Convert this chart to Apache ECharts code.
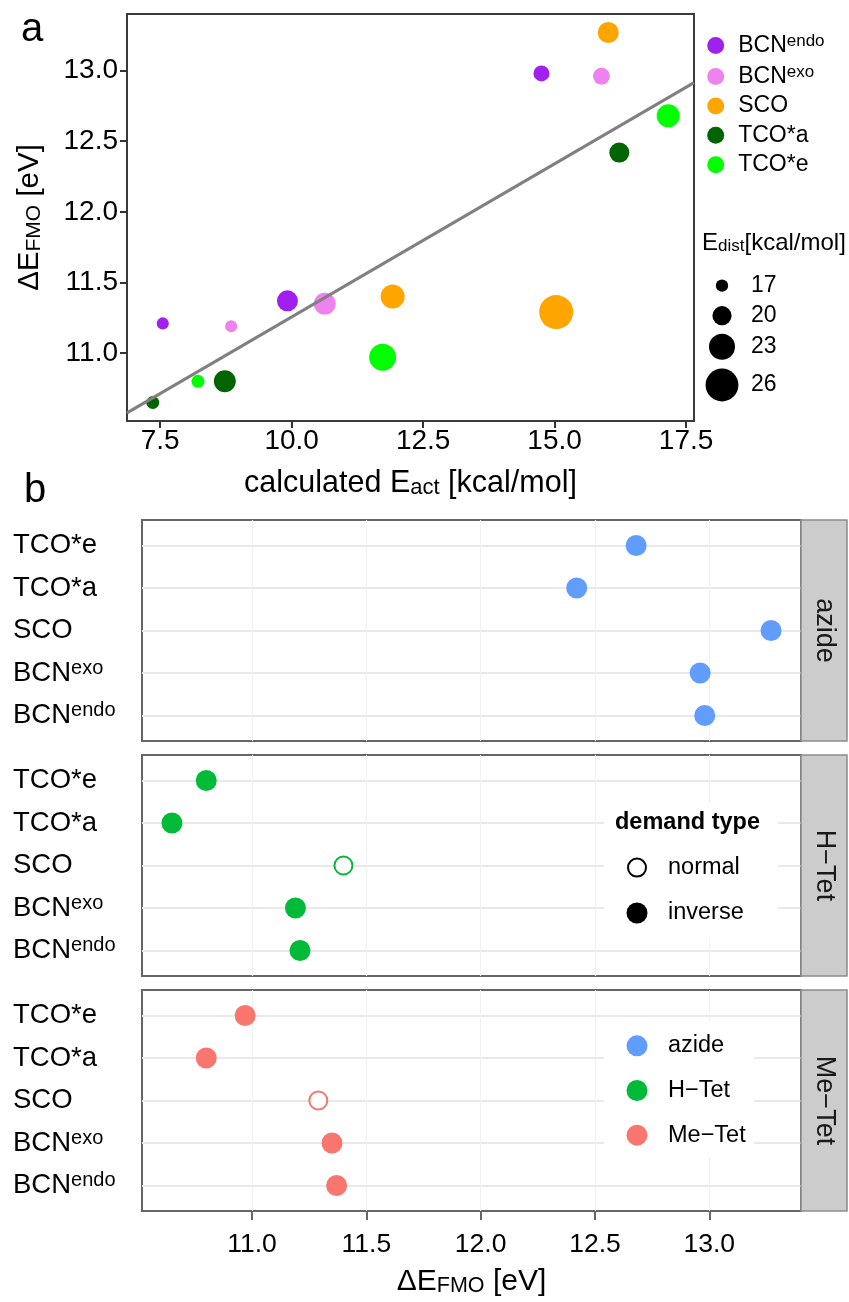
<!DOCTYPE html>
<html><head><meta charset="utf-8">
<script src="https://cdn.jsdelivr.net/npm/echarts@6/dist/echarts.min.js"></script>
<style>html,body{margin:0;padding:0;background:#fff}#c{width:849px;height:1302px}</style>
</head><body><div id="c"></div>
<script>
// ---------- data ----------
const cyclooctynes = ['BCNendo', 'BCNexo', 'SCO', 'TCO*a', 'TCO*e'];
const dipoles = ['azide', 'H-Tet', 'Me-Tet'];
// ΔE_FMO [eV] per dipole, in cyclooctyne order
const dEfmoAzide = [12.98, 12.96, 13.27, 12.42, 12.68];
const dEfmoHTet  = [11.21, 11.19, 11.40, 10.65, 10.80];
const dEfmoMeTet = [11.37, 11.35, 11.29, 10.80, 10.97];
// calculated E_act [kcal/mol]
const eActAzide = [14.75, 15.89, 16.02, 16.23, 17.16];
const eActHTet  = [7.55, 8.85, 11.92, 7.36, 8.22];
const eActMeTet = [9.92, 10.63, 15.03, 8.73, 11.73];
// E_dist [kcal/mol]
const eDistAzide = [18.6, 19.0, 20.8, 20.4, 21.7];
const eDistHTet  = [16.9, 16.9, 22.1, 17.3, 17.3];
const eDistMeTet = [20.8, 21.2, 26.5, 21.2, 23.4];
// demand type
const demandAzide = ['inverse', 'inverse', 'inverse', 'inverse', 'inverse'];
const demandHTet  = ['inverse', 'inverse', 'normal', 'inverse', 'inverse'];
const demandMeTet = ['inverse', 'inverse', 'normal', 'inverse', 'inverse'];
const demandTypes = ['normal', 'inverse'];
// ticks / legend breaks
const sizeBreaks = [17, 20, 23, 26];
const xTicksA = [7.5, 10.0, 12.5, 15.0, 17.5];
const yTicksA = [11.0, 11.5, 12.0, 12.5, 13.0];
const xTicksB = [11.0, 11.5, 12.0, 12.5, 13.0];

// ---------- styling ----------
const FONT = '"Liberation Sans", Arial, Helvetica, sans-serif';
const cycloColors = ['#a020f0', '#ee82ee', '#ffa500', '#006400', '#00ff00'];
const dipoleColors = ['#619cff', '#00ba38', '#f8766d'];
const cycloRich = {
  'BCNendo': '{m|BCN}{sup|endo}', 'BCNexo': '{m|BCN}{sup|exo}',
  'SCO': '{m|SCO}', 'TCO*a': '{m|TCO*a}', 'TCO*e': '{m|TCO*e}'
};
const dispDipole = n => n.replace('-', '\u2212');
const sizeFn = v => 12.34 + 2.28 * (v - 17);

const dEfmo = [dEfmoAzide, dEfmoHTet, dEfmoMeTet];
const eAct = [eActAzide, eActHTet, eActMeTet];
const eDist = [eDistAzide, eDistHTet, eDistMeTet];
const demand = [demandAzide, demandHTet, demandMeTet];

// axis ranges with 5% expansion (ggplot default)
function expand(arr) {
  const mn = Math.min(...arr), mx = Math.max(...arr), d = (mx - mn) * 0.05;
  return [mn - d, mx + d];
}
const allX = [].concat(...eAct), allY = [].concat(...dEfmo);
const xRangeA = expand(allX), yRangeA = expand(allY);

// OLS fit
const n = allX.length;
const mx = allX.reduce((a, b) => a + b, 0) / n, my = allY.reduce((a, b) => a + b, 0) / n;
let sxy = 0, sxx = 0;
for (let i = 0; i < n; i++) { sxy += (allX[i] - mx) * (allY[i] - my); sxx += (allX[i] - mx) ** 2; }
const slope = sxy / sxx, icpt = my - slope * mx;

// ---------- layout ----------
const PA = {left: 127, top: 14, width: 567, height: 407};
const PB = {left: 142, width: 659, height: 221, tops: [520, 755, 990]};

const grids = [Object.assign({show: true, borderColor: '#3a3a3a', borderWidth: 2, backgroundColor: 'rgba(0,0,0,0)'}, PA)];
PB.tops.forEach(t => grids.push({left: PB.left, top: t, width: PB.width, height: PB.height,
  show: true, borderColor: '#666', borderWidth: 2, backgroundColor: 'rgba(0,0,0,0)'}));

const subRich = (fs, lh) => ({sub: {fontSize: fs, verticalAlign: 'bottom', lineHeight: lh, fontFamily: FONT, color: '#000'}});

const xAxes = [{
  type: 'value', gridIndex: 0, min: xRangeA[0], max: xRangeA[1],
  axisLine: {show: false},
  axisTick: {show: true, customValues: xTicksA, length: 7, lineStyle: {color: '#333', width: 2}},
  axisLabel: {customValues: xTicksA, formatter: v => v.toFixed(1), fontSize: 28, color: '#000', margin: 6, fontFamily: FONT},
  splitLine: {show: false},
  name: 'calculated E{sub|act} [kcal/mol]', nameLocation: 'middle', nameGap: 47,
  nameTextStyle: {fontSize: 30.5, color: '#000', fontFamily: FONT, rich: subRich(22, 11)}
}];
const yAxes = [{
  type: 'value', gridIndex: 0, min: yRangeA[0], max: yRangeA[1],
  axisLine: {show: false},
  axisTick: {show: true, customValues: yTicksA, length: 7, lineStyle: {color: '#333', width: 2}},
  axisLabel: {customValues: yTicksA, formatter: v => v.toFixed(1), fontSize: 28, color: '#000', margin: 9, fontFamily: FONT},
  splitLine: {show: false},
  name: '\u0394E{sub|FMO} [eV]', nameLocation: 'middle', nameGap: 82, nameRotate: 90,
  nameTextStyle: {fontSize: 29.5, color: '#000', fontFamily: FONT, rich: subRich(21, 11)}
}];
for (let k = 0; k < 3; k++) {
  const last = k === 2;
  xAxes.push({
    type: 'value', gridIndex: k + 1, min: yRangeA[0], max: yRangeA[1],
    axisLine: {show: false},
    axisTick: {show: last, customValues: xTicksB, length: 9, lineStyle: {color: '#666', width: 2}},
    axisLabel: {show: last, customValues: xTicksB, formatter: v => v.toFixed(1), fontSize: 26.5, color: '#000', margin: 20, fontFamily: FONT},
    splitLine: {show: true, lineStyle: {color: '#f1f1f1', width: 1}},
    name: last ? '\u0394E{sub|FMO} [eV]' : '', nameLocation: 'middle', nameGap: 56,
    nameTextStyle: {fontSize: 30, color: '#000', fontFamily: FONT, rich: subRich(21.5, 11)}
  });
  yAxes.push({
    type: 'value', gridIndex: k + 1, min: 0.4, max: cyclooctynes.length + 0.6,
    axisLine: {show: false},
    axisTick: {show: false, customValues: cyclooctynes.map((c, i) => i + 1)},
    axisLabel: {customValues: cyclooctynes.map((c, i) => i + 1),
      formatter: v => cycloRich[cyclooctynes[Math.round(v) - 1]],
      align: 'left', margin: 129, color: '#000', fontFamily: FONT,
      rich: {
        m: {fontSize: 27.5, lineHeight: 30, fontFamily: FONT, color: '#000'},
        sup: {fontSize: 20, verticalAlign: 'top', lineHeight: 5, fontFamily: FONT, color: '#000'}
      }},
    splitLine: {show: true, lineStyle: {color: '#e9e9e9', width: 2}}
  });
}

const series = [];
// regression line (full range)
series.push({
  type: 'line', xAxisIndex: 0, yAxisIndex: 0, silent: true, symbol: 'none', z: 4,
  data: [[xRangeA[0], icpt + slope * xRangeA[0]], [xRangeA[1], icpt + slope * xRangeA[1]]],
  lineStyle: {color: '#808080', width: 3}
});
cyclooctynes.forEach((c, i) => {
  series.push({
    type: 'scatter', name: c, xAxisIndex: 0, yAxisIndex: 0, z: 3,
    data: [0, 1, 2].map(k => [eAct[k][i], dEfmo[k][i], eDist[k][i]]),
    symbolSize: d => sizeFn(d[2]),
    itemStyle: {color: cycloColors[i], opacity: 1}
  });
});
dipoles.forEach((dp, k) => {
  series.push({
    type: 'scatter', name: dp, xAxisIndex: k + 1, yAxisIndex: k + 1, z: 3,
    symbolSize: 21,
    itemStyle: {color: dipoleColors[k], opacity: 1},
    data: cyclooctynes.map((c, i) => demand[k][i] === 'normal'
      ? {value: [dEfmo[k][i], i + 1], symbolSize: 18, itemStyle: {color: '#fff', borderColor: dipoleColors[k], borderWidth: 2}}
      : {value: [dEfmo[k][i], i + 1]})
  });
});

// ---------- graphics (tags, size legend, demand legend, strips) ----------
const graphic = [];
const T = (x, y, text, extra) => ({type: 'text', x, y, z: 10,
  style: Object.assign({text, fontSize: 23.5, fontFamily: FONT, fill: '#000', align: 'left', verticalAlign: 'middle'}, extra || {})});
graphic.push(T(21, 30, 'a', {fontSize: 40}));
graphic.push(T(24, 491, 'b', {fontSize: 40}));
graphic.push(T(702, 243, 'E{sub|dist}[kcal/mol]', {fontSize: 24,
  rich: {sub: {fontSize: 17, verticalAlign: 'bottom', lineHeight: 9, fontFamily: FONT, fill: '#000'}}}));
const sizeKeyY = [285.7, 315.7, 346.7, 385];
sizeBreaks.forEach((b, i) => {
  graphic.push({type: 'circle', z: 10, shape: {cx: 722, cy: sizeKeyY[i], r: sizeFn(b) / 2}, style: {fill: '#000'}});
  graphic.push(T(751, sizeKeyY[i], String(b), {fontSize: 23}));
});
// legend backgrounds inside facets (white, hide gridlines)
graphic.push({type: 'rect', z: 1, shape: {x: 604, y: 803, width: 174, height: 134}, style: {fill: '#fff'}});
graphic.push({type: 'rect', z: 1, shape: {x: 604, y: 1021, width: 150, height: 136}, style: {fill: '#fff'}});
graphic.push(T(615, 823, 'demand type', {fontWeight: 'bold'}));
const demandKeyY = [867.6, 913];
demandTypes.forEach((d, i) => {
  graphic.push(d === 'normal'
    ? {type: 'circle', z: 10, shape: {cx: 637, cy: demandKeyY[i], r: 9}, style: {fill: '#fff', stroke: '#000', lineWidth: 2}}
    : {type: 'circle', z: 10, shape: {cx: 637, cy: demandKeyY[i], r: 10.5}, style: {fill: '#000'}});
  graphic.push(T(668, demandKeyY[i], d));
});
PB.tops.forEach((t, k) => {
  graphic.push({type: 'rect', z: 1, shape: {x: 801, y: t, width: 46, height: PB.height}, style: {fill: '#cccccc', stroke: '#8c8c8c', lineWidth: 1.5}});
  graphic.push({type: 'text', z: 10, x: 824, y: t + PB.height / 2, rotation: -Math.PI / 2,
    style: {text: dispDipole(dipoles[k]), fontSize: 27, fontFamily: FONT, fill: '#1a1a1a', align: 'center', verticalAlign: 'middle'}});
});

const option = {
  animation: false,
  backgroundColor: '#fff',
  textStyle: {fontFamily: FONT},
  grid: grids, xAxis: xAxes, yAxis: yAxes, series: series, graphic: graphic,
  legend: [{
    data: cyclooctynes, orient: 'vertical', left: 707.2, top: 32.6, padding: 0, z: 10,
    itemWidth: 17, itemHeight: 17, itemGap: 6.4, icon: 'circle', selectedMode: false,
    formatter: nm => cycloRich[nm],
    textStyle: {fontSize: 23, color: '#000', fontFamily: FONT,
      rich: {
        m: {fontSize: 23, lineHeight: 26, padding: [0, 0, 0, 9], color: '#000', fontFamily: FONT},
        sup: {fontSize: 17, verticalAlign: 'top', lineHeight: 9, color: '#000', fontFamily: FONT}
      }}
  }, {
    data: dipoles, orient: 'vertical', left: 626.5, top: 1033.8, padding: 0, z: 10,
    itemWidth: 21, itemHeight: 21, itemGap: 20.7, icon: 'circle', selectedMode: false,
    formatter: nm => '{m|' + dispDipole(nm) + '}',
    textStyle: {fontSize: 23.5, color: '#000', fontFamily: FONT,
      rich: {m: {fontSize: 23.5, lineHeight: 21, padding: [0, 0, 0, 15.5], color: '#000', fontFamily: FONT}}}
  }]
};
const chart = echarts.init(document.getElementById('c'), null, {renderer: 'canvas'});
chart.setOption(option);
</script></body></html>
